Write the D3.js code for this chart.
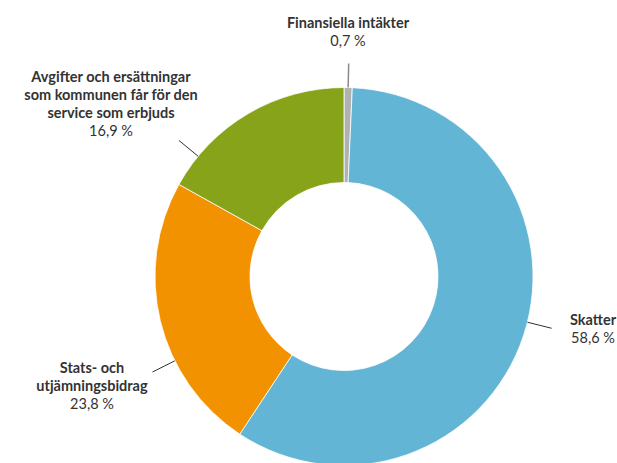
<!DOCTYPE html>
<html>
<head>
<meta charset="utf-8">
<script src="https://cdn.jsdelivr.net/npm/d3@7"></script>
<style>
  body { margin: 0; background: #fff; }
  svg { display: block; }
  text { font-family: Lato, "Open Sans", sans-serif; fill: #333; }
</style>
</head>
<body>
<svg width="617" height="463"></svg>
<script>
// data, clockwise from the top
var categories = ["Finansiella intäkter", "Skatter", "Stats- och utjämningsbidrag",
                  "Avgifter och ersättningar som kommunen får för den service som erbjuds"];
var values = [0.7, 58.6, 23.8, 16.9];
var colors = ["#b1b1b1", "#63b5d5", "#f39200", "#87a319"];

// label layout: wrapped lines, anchor point, leader angle (deg from top)
var labelLines = [
  ["Finansiella intäkter"],
  ["Skatter"],
  ["Stats- och", "utjämningsbidrag"],
  ["Avgifter och ersättningar", "som kommunen får för den", "service som erbjuds"]
];
var labelPos = [[348, 28], [593, 325], [92, 373], [111, 82]];
var leaderAngle = [null, 104, 243.5, 309.5];

var svg = d3.select("svg"),
    cx = 344, cy = 276.5,
    outerR = 189, innerR = 94;

var pie = d3.pie().sort(null).value(function(d) { return d; });
var arc = d3.arc().innerRadius(innerR).outerRadius(outerR);
var arcs = pie(values);

var g = svg.append("g").attr("transform", "translate(" + cx + "," + cy + ")");

g.selectAll("path")
  .data(arcs)
  .enter().append("path")
    .attr("d", arc)
    .attr("fill", function(d, i) { return colors[i]; })
    .attr("stroke", "#fff")
    .attr("stroke-width", 0.8);

// leader lines
arcs.forEach(function(d, i) {
  var a = leaderAngle[i] == null ? (d.startAngle + d.endAngle) / 2 : leaderAngle[i] * Math.PI / 180;
  var r2 = i == 0 ? outerR + 24 : outerR + 25;
  g.append("line")
    .attr("x1", Math.sin(a) * outerR)
    .attr("y1", -Math.cos(a) * outerR)
    .attr("x2", Math.sin(a) * r2)
    .attr("y2", -Math.cos(a) * r2)
    .attr("stroke", i == 0 ? "#8a8a8a" : "#333")
    .attr("stroke-width", i == 0 ? 1.5 : 1);
});

// labels
var fmt = function(v) { return d3.format(".1f")(v).replace(".", ",") + " %"; };

labelLines.forEach(function(lines, i) {
  var t = svg.append("text")
    .attr("text-anchor", "middle")
    .attr("font-size", "14.5px");
  lines.forEach(function(line, j) {
    t.append("tspan")
      .attr("x", labelPos[i][0])
      .attr("y", labelPos[i][1] + j * 18)
      .attr("font-weight", "bold")
      .text(line);
  });
  t.append("tspan")
    .attr("x", labelPos[i][0])
    .attr("y", labelPos[i][1] + lines.length * 18)
    .text(fmt(values[i]));
});
</script>
</body>
</html>
